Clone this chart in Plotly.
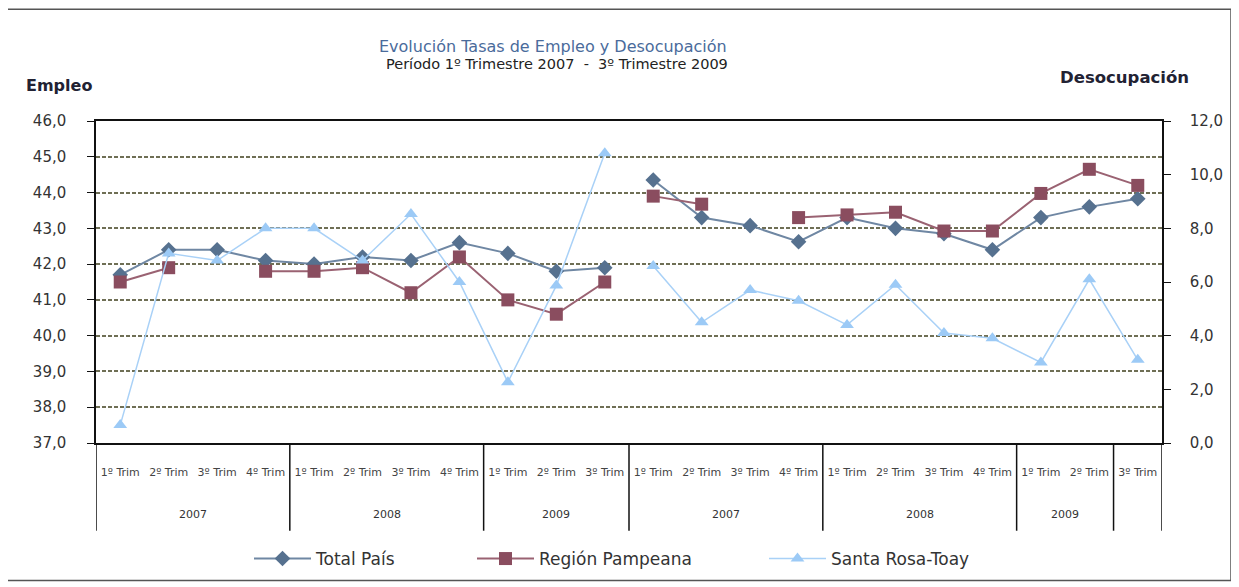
import plotly.graph_objects as go

# quarters shown on the category axis (first 11 = Empleo, last 11 = Desocupación)
trim_labels = ["1º Trim", "2º Trim", "3º Trim", "4º Trim",
               "1º Trim", "2º Trim", "3º Trim", "4º Trim",
               "1º Trim", "2º Trim", "3º Trim",
               "1º Trim", "2º Trim", "3º Trim", "4º Trim",
               "1º Trim", "2º Trim", "3º Trim", "4º Trim",
               "1º Trim", "2º Trim", "3º Trim"]
year_groups = ["2007", "2008", "2009", "2007", "2008", "2009", ""]
group_sizes = [4, 4, 3, 4, 4, 2, 1]

empleo_total = [41.7, 42.4, 42.4, 42.1, 42.0, 42.2, 42.1, 42.6, 42.3, 41.8, 41.9]
empleo_pampeana = [41.5, 41.9, None, 41.8, 41.8, 41.9, 41.2, 42.2, 41.0, 40.6, 41.5]
empleo_santarosa = [37.5, 42.3, 42.1, 43.0, 43.0, 42.1, 43.4, 41.5, 38.7, 41.4, 45.1]

desoc_total = [9.8, 8.4, 8.1, 7.5, 8.4, 8.0, 7.8, 7.2, 8.4, 8.8, 9.1]
desoc_pampeana = [9.2, 8.9, None, 8.4, 8.5, 8.6, 7.9, 7.9, 9.3, 10.2, 9.6]
desoc_santarosa = [6.6, 4.5, 5.7, 5.3, 4.4, 5.9, 4.1, 3.9, 3.0, 6.1, 3.1]

# the page puts the figure 8px in from the corner, so size it to fit the window
OFF = 8
W, H = 1239 - OFF, 587 - OFF
PL, PR, PT, PB = 96, 1162, 121, 444   # plot area in window pixels
FONT = "DejaVu Sans"


def px_x(px):
    return (px - PL) / (PR - PL)


def px_y(py):
    return (PB - py) / (PB - PT)


n = len(empleo_total)
x_emp = list(range(n))
x_des = list(range(n, 2 * n))

series = [
    ("Total País", empleo_total, desoc_total, "#56718f", "#6f87a3", "diamond", 12, 2, "legend"),
    ("Región Pampeana", empleo_pampeana, desoc_pampeana, "#8a4d5f", "#9a6272", "square", 13, 2, "legend2"),
    ("Santa Rosa-Toay", empleo_santarosa, desoc_santarosa, "#9ccaf6", "#a9d1f7", "triangle-up", 12, 1.5, "legend3"),
]

fig = go.Figure()
for name, emp, des, mcol, lcol, sym, size, lw, leg in series:
    fig.add_trace(go.Scatter(x=x_emp, y=emp, name=name, mode="lines+markers",
                             line=dict(color=lcol, width=lw),
                             marker=dict(symbol=sym, size=size, color=mcol),
                             legendgroup=name, legend=leg, connectgaps=False))
    fig.add_trace(go.Scatter(x=x_des, y=des, name=name, mode="lines+markers",
                             line=dict(color=lcol, width=lw),
                             marker=dict(symbol=sym, size=size, color=mcol),
                             legendgroup=name, showlegend=False, yaxis="y2",
                             connectgaps=False))

# year group separators and labels under the axis
shapes = []
annotations = []
start = 0
bounds = [0]
for yr, sz in zip(year_groups, group_sizes):
    end = start + sz
    bounds.append(end)
    if yr:
        annotations.append(dict(x=(start + end - 1) / 2, y=px_y(516), xref="x", yref="paper",
                                xanchor="center", yanchor="middle",
                                text=yr, showarrow=False, font=dict(size=11, color="#333333")))
    start = end
for b in bounds:
    shapes.append(dict(type="line", xref="x", yref="paper", x0=b - 0.5, x1=b - 0.5,
                       y0=0, y1=px_y(532), line=dict(color="#111111", width=1.5)))

# outer frame
shapes.append(dict(type="rect", xref="paper", yref="paper",
                   x0=px_x(7), x1=px_x(1231), y0=px_y(582), y1=px_y(9),
                   line=dict(color="#555555", width=1.5)))

annotations += [
    dict(x=px_x(553), y=px_y(46), xref="paper", yref="paper", showarrow=False,
         xanchor="center", yanchor="middle",
         text="Evolución Tasas de Empleo y Desocupación",
         font=dict(size=16, color="#4a6b9b")),
    dict(x=px_x(557), y=px_y(64), xref="paper", yref="paper", showarrow=False,
         xanchor="center", yanchor="middle",
         text="Período 1º Trimestre 2007  -  3º Trimestre 2009",
         font=dict(size=14.5, color="#222222")),
    dict(x=px_x(24), y=px_y(85), xref="paper", yref="paper", showarrow=False,
         xanchor="left", yanchor="middle",
         text="<b>Empleo</b>", font=dict(size=16, color="#222233")),
    dict(x=px_x(1058), y=px_y(77), xref="paper", yref="paper", showarrow=False,
         xanchor="left", yanchor="middle",
         text="<b>Desocupación</b>", font=dict(size=16.5, color="#222233")),
]

leg_common = dict(orientation="h", yanchor="middle", y=px_y(559), xanchor="left",
                  font=dict(family=FONT, size=17, color="#333333"),
                  itemwidth=57, bgcolor="rgba(0,0,0,0)")

fig.update_layout(
    width=W, height=H,
    margin=dict(l=PL - OFF, r=W - (PR - OFF), t=PT - OFF, b=H - (PB - OFF)),
    paper_bgcolor="white", plot_bgcolor="white",
    font=dict(family=FONT, color="#333333"),
    separators=",.",
    shapes=shapes,
    annotations=annotations,
    legend=dict(leg_common, x=px_x(249)),
    legend2=dict(leg_common, x=px_x(472)),
    legend3=dict(leg_common, x=px_x(764)),
    xaxis=dict(range=[-0.5, 2 * n - 0.5], tickvals=list(range(2 * n)), ticktext=trim_labels,
               showgrid=False, zeroline=False, showline=True, mirror=True,
               linecolor="#111111", linewidth=1.5, ticks="", ticklabelstandoff=18,
               tickfont=dict(size=11, color="#444444")),
    yaxis=dict(range=[37, 46], dtick=1, tickformat=".1f", showgrid=True,
               gridcolor="#6f6f55", griddash="4px,2px", gridwidth=1.5,
               zeroline=False, showline=True, linecolor="#111111", linewidth=1.5,
               ticks="outside", ticklen=7, tickcolor="#111111", ticklabelstandoff=18,
               tickfont=dict(size=15, color="#333333")),
    yaxis2=dict(range=[0, 12], dtick=2, tickformat=".1f", overlaying="y", side="right",
                showgrid=False, zeroline=False, showline=True, linecolor="#111111",
                linewidth=1.5, ticks="outside", ticklen=7, tickcolor="#111111",
                ticklabelstandoff=16, tickfont=dict(size=15, color="#333333")),
)

fig.write_html("out.html")
